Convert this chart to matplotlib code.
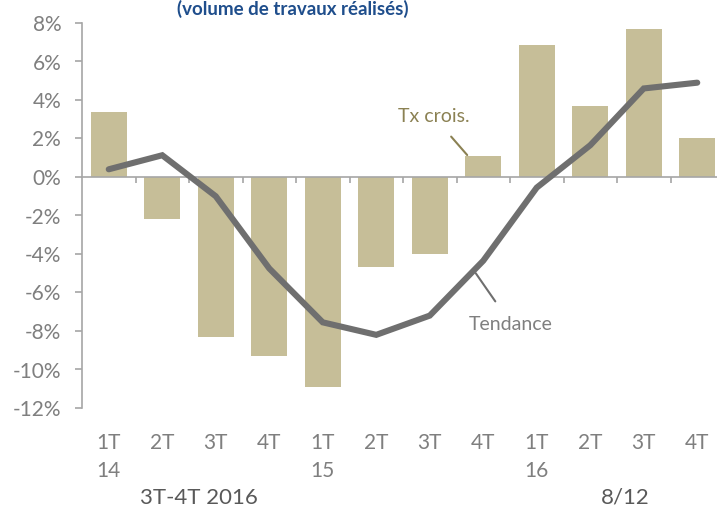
import matplotlib.pyplot as plt
from matplotlib.transforms import blended_transform_factory

plt.rcParams['font.family'] = ['Lato', 'DejaVu Sans']

# data
quarters = ["1T\n14", "2T", "3T", "4T", "1T\n15", "2T", "3T", "4T",
            "1T\n16", "2T", "3T", "4T"]
growth = [3.4, -2.2, -8.3, -9.3, -10.9, -4.7, -4.0, 1.1, 6.85, 3.7, 7.7, 2.0]
trend = [0.4, 1.13, -1.0, -4.75, -7.55, -8.2, -7.2, -4.35, -0.55, 1.65, 4.6, 4.9]
yticks = [8, 6, 4, 2, 0, -2, -4, -6, -8, -10, -12]

bar_color = "#c6be98"
line_color = "#6f6f6f"
text_gray = "#7f7f7f"

fig = plt.figure(figsize=(7.17, 5.11), dpi=100)
ax = fig.add_axes([82 / 717, 1 - 408 / 511, (724 - 82) / 717, (408 - 23) / 511])

x = list(range(len(growth)))
ax.bar(x, growth, width=0.67, color=bar_color, zorder=2)
ax.plot(x, trend, color=line_color, lw=4.4, solid_capstyle='round',
        solid_joinstyle='miter', zorder=3)

ax.set_xlim(-0.5, len(growth) - 0.5)
ax.set_ylim(-12, 8)

# axes styling
for side in ("top", "right"):
    ax.spines[side].set_visible(False)
ax.spines["left"].set_color("#a6a6a6")
ax.spines["left"].set_linewidth(1.2)
ax.spines["bottom"].set_position(("data", 0))
ax.spines["bottom"].set_color("#a6a6a6")
ax.spines["bottom"].set_linewidth(1.2)
ax.spines["bottom"].set_zorder(2.5)

ax.set_yticks(yticks)
ax.set_yticklabels([f"{v}%" for v in yticks], fontsize=15, color=text_gray)
ax.tick_params(axis="y", length=5, width=1.2, color="#a6a6a6", pad=10)

ax.set_xticks([i + 0.5 for i in x[:-1]])
ax.set_xticklabels([])
ax.tick_params(axis="x", length=4, width=1.2, color="#a6a6a6")

# category labels below the plot area
trans = blended_transform_factory(ax.transData, ax.transAxes)
for i, lab in zip(x, quarters):
    ax.text(i, -0.066, lab, transform=trans, ha="center", va="top",
            fontsize=15, color=text_gray, linespacing=1.5)

# annotations
ax.annotate("Tx crois.", xy=(6.7, 1.14), xytext=(6.08, 3.12), fontsize=14,
            color="#8b8153", ha="center", va="center",
            arrowprops=dict(arrowstyle="-", color="#8b8153", lw=1.5,
                            shrinkA=8, shrinkB=0))
ax.annotate("Tendance", xy=(6.86, -5.0), xytext=(7.52, -7.64), fontsize=14,
            color=text_gray, ha="center", va="center",
            arrowprops=dict(arrowstyle="-", color=line_color, lw=1.5,
                            shrinkA=10, shrinkB=0))

fig.text(293 / 717, 1 - 9 / 511, "(volume de travaux réalisés)", ha="center",
         va="center", fontsize=13.5, fontweight="bold", color="#1f4e8c")
fig.text(199 / 717, 1 - 498 / 511, "3T-4T 2016", ha="center", va="center",
         fontsize=16, color="#595959")
fig.text(625 / 717, 1 - 498 / 511, "8/12", ha="center", va="center",
         fontsize=16, color="#595959")

fig.savefig("out.png", dpi=100)
